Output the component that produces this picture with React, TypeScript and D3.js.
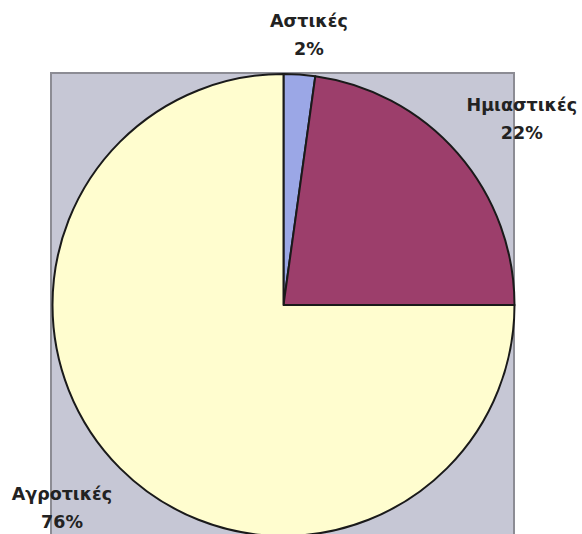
import React, { useRef, useEffect } from 'react';
import * as d3 from 'd3';

// data
const categories = ['Αστικές', 'Ημιαστικές', 'Αγροτικές'];
const shares = [2.2, 22.8, 75];
const shareLabels = ['2%', '22%', '76%'];
const colors = ['#9ba7e6', '#9c3e6b', '#fffdcf'];

function App() {
    const width = 582;
    const height = 534;
    const cx = 283.5;
    const cy = 305;
    const radius = 231;

    const ref = useRef<SVGSVGElement>(null);

    useEffect(() => {
        const root = d3.select(ref.current);
        root.selectAll('*').remove();

        // plot area background
        root.append('rect')
            .attr('x', 51)
            .attr('y', 73)
            .attr('width', 463)
            .attr('height', 500)
            .attr('fill', '#c6c7d5')
            .attr('stroke', '#8c8c94')
            .attr('stroke-width', 2);

        const g = root.append('g')
            .attr('transform', 'translate(' + cx + ',' + cy + ')');

        const data = categories.map((c, i) => ({ name: c, value: shares[i], label: shareLabels[i], i }));

        const pie = d3.pie<any>()
            .sort(null)
            .value(d => d.value);
        const arcs = pie(data);

        const arc = d3.arc<any>()
            .innerRadius(0)
            .outerRadius(radius);

        g.selectAll('path.slice')
            .data(arcs)
            .enter()
            .append('path')
            .attr('class', 'slice')
            .attr('d', arc)
            .attr('fill', d => colors[d.data.i])
            .attr('stroke', '#1a1a1a')
            .attr('stroke-width', 2)
            .attr('stroke-linejoin', 'round');

        // labels sit outside, nudged per slice like the Excel layout
        const labelDist = [272, 303, 300];
        const labelTurn = [1.4, 2.9, 2.6];
        const labels = g.selectAll('g.lbl')
            .data(arcs)
            .enter()
            .append('g')
            .attr('class', 'lbl')
            .attr('transform', d => {
                const mid = (d.startAngle + d.endAngle) / 2 + labelTurn[d.data.i] * Math.PI / 180;
                const r = labelDist[d.data.i];
                const x = r * Math.sin(mid);
                const y = -r * Math.cos(mid);
                return 'translate(' + x + ',' + y + ')';
            })
            .style('font-family', '"DejaVu Sans", sans-serif')
            .style('font-weight', 'bold')
            .style('font-size', '17.5px')
            .attr('fill', '#222');

        labels.append('text')
            .attr('text-anchor', 'middle')
            .attr('y', -7)
            .text(d => d.data.name);
        labels.append('text')
            .attr('text-anchor', 'middle')
            .attr('y', 21)
            .text(d => d.data.label);
    }, []);

    return (
        <div style={{ position: 'absolute', left: 0, top: 0 }}>
            <svg ref={ref} width={width} height={height} style={{ display: 'block', overflow: 'hidden' }} />
        </div>
    );
}

export default App;
